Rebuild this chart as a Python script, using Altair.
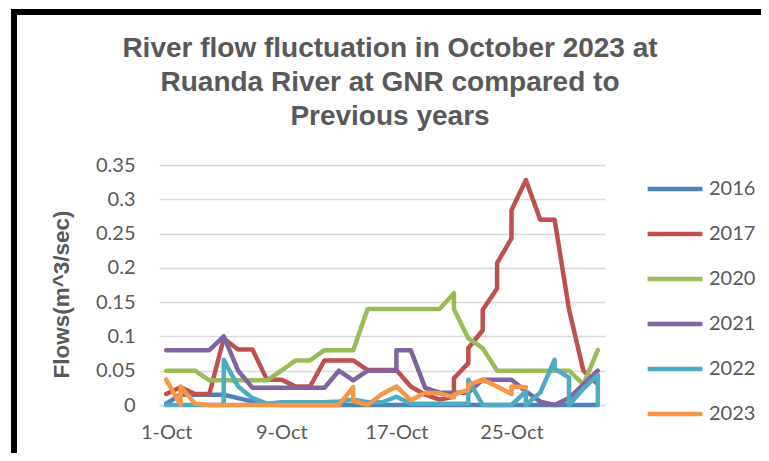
import altair as alt
import pandas as pd

years = ["2016", "2017", "2020", "2021", "2022", "2023"]
colors = ["#4F81BD", "#C0504D", "#9BBB59", "#8064A2", "#4BACC6", "#F79646"]
tick_days = [1, 9, 17, 25]
y_ticks = [0, 0.05, 0.1, 0.15, 0.2, 0.25, 0.3, 0.35]

days_2016 = list(range(1, 32))
flow_2016 = [0.002, 0.015, 0.015, 0.015, 0.015, 0.01, 0.005, 0.002] + [0.0] * 23

days_2017 = list(range(1, 21)) + [21, 21, 22, 22, 23, 23, 24, 24, 25, 25, 26, 27, 28, 29, 30, 31]
flow_2017 = [0.016, 0.026, 0.016, 0.016, 0.097, 0.081, 0.081, 0.037, 0.037, 0.027,
             0.027, 0.065, 0.065, 0.065, 0.051, 0.051, 0.051, 0.027, 0.015, 0.008,
             0.012, 0.039, 0.061, 0.083, 0.109, 0.139, 0.17, 0.207, 0.243, 0.284,
             0.328, 0.27, 0.27, 0.139, 0.05, 0.03]

days_2020 = list(range(1, 22)) + list(range(21, 32))
flow_2020 = [0.05, 0.05, 0.05, 0.036, 0.036, 0.036, 0.036, 0.036, 0.05, 0.065,
             0.065, 0.08, 0.08, 0.08, 0.14, 0.14, 0.14, 0.14, 0.14, 0.14,
             0.163, 0.14, 0.097, 0.083, 0.05, 0.05, 0.05, 0.05, 0.05, 0.05,
             0.03, 0.08]

days_2021 = list(range(1, 18)) + list(range(17, 32))
flow_2021 = [0.08, 0.08, 0.08, 0.08, 0.1, 0.05, 0.025, 0.025, 0.025, 0.025,
             0.025, 0.025, 0.05, 0.036, 0.05, 0.05, 0.05, 0.08, 0.08, 0.025,
             0.018, 0.018, 0.018, 0.037, 0.037, 0.037, 0.02, 0.005, 0.0, 0.01,
             0.03, 0.05]

days_2022 = [1, 2, 3, 4, 5, 5] + list(range(6, 23)) + [22, 23, 24, 25, 26, 26, 27, 28, 28, 29, 29, 30, 31, 31]
flow_2022 = [0.0, 0.0, 0.0, 0.0, 0.0, 0.066, 0.027, 0.01, 0.002, 0.004,
             0.004, 0.004, 0.004, 0.005, 0.008, 0.004, 0.004, 0.012, 0.002, 0.002,
             0.002, 0.002, 0.002, 0.037, 0.0, 0.0, 0.0, 0.02, 0.0, 0.018,
             0.066, 0.053, 0.04, 0.0, 0.024, 0.044, 0.0]

days_2023 = [1, 2, 2] + list(range(3, 15)) + list(range(14, 22)) + [21, 22, 22, 23, 24, 25, 25, 26]
flow_2023 = [0.037, 0.0, 0.027, 0.002, 0.0, 0.0, 0.0, 0.0, 0.0, 0.0,
             0.0, 0.0, 0.0, 0.0, 0.026, 0.006, 0.0, 0.016, 0.027, 0.007,
             0.018, 0.017, 0.011, 0.015, 0.022, 0.029, 0.037, 0.027, 0.016, 0.027,
             0.026]

series = [
    ("2016", days_2016, flow_2016),
    ("2017", days_2017, flow_2017),
    ("2020", days_2020, flow_2020),
    ("2021", days_2021, flow_2021),
    ("2022", days_2022, flow_2022),
    ("2023", days_2023, flow_2023),
]
rows = []
for yr, ds, fs in series:
    for i, (d, f) in enumerate(zip(ds, fs)):
        rows.append({"year": yr, "day": d, "flow": f, "seq": i})
df = pd.DataFrame(rows)

GRAY = "#595959"

lines = alt.Chart(df).mark_line(strokeWidth=4.5, strokeCap="round", strokeJoin="round").encode(
    x=alt.X("day:Q",
            scale=alt.Scale(domain=[0.5, 31.5], nice=False, zero=False),
            axis=alt.Axis(values=tick_days, labelExpr="datum.value + '-Oct'", grid=False,
                          ticks=False, tickSize=0, domain=True, domainColor="#D9D9D9",
                          domainWidth=1.5, labelFont="Lato", labelFontSize=20,
                          labelColor=GRAY, labelPadding=17, labelFlush=False, title=None)),
    y=alt.Y("flow:Q",
            scale=alt.Scale(domain=[0, 0.35], nice=False),
            axis=alt.Axis(values=y_ticks, format="~g", grid=True, gridColor="#D9D9D9",
                          gridWidth=1.5, ticks=False, tickSize=0, domain=False,
                          labelFont="Lato", labelFontSize=20, labelColor=GRAY,
                          labelPadding=24, title="Flows(m^3/sec)",
                          titleFont="Liberation Sans", titleFontSize=22.5,
                          titleFontWeight="bold", titleColor=GRAY, titlePadding=22,
                          titleY=129)),
    color=alt.Color("year:N",
                    scale=alt.Scale(domain=years, range=colors),
                    legend=alt.Legend(title=None, orient="none", legendX=486, legendY=-6,
                                      symbolType="stroke", symbolSize=3000,
                                      symbolStrokeWidth=4.5, labelFont="Lato",
                                      labelFontSize=20, labelColor=GRAY, labelOffset=4,
                                      rowPadding=5, padding=0)),
    order=alt.Order("seq:Q"),
)

border_top = alt.Chart(pd.DataFrame({"b": [1]})).mark_rule(color="black", strokeWidth=6).encode(
    x=alt.value(-148), x2=alt.value(610), y=alt.value(-153))
border_left = alt.Chart(pd.DataFrame({"b": [1]})).mark_rule(color="black", strokeWidth=6).encode(
    x=alt.value(-145), y=alt.value(-156), y2=alt.value(300))

chart = alt.layer(lines, border_top, border_left).properties(
    width=446,
    height=240,
    autosize=alt.AutoSizeParams(type="none"),
    padding={"left": 151, "top": 157, "right": 156, "bottom": 48},
    title=alt.TitleParams(
        text=["River flow fluctuation in October 2023 at",
              "Ruanda River at GNR compared to",
              "Previous years"],
        font="Liberation Sans", fontSize=28, fontWeight="bold", color=GRAY,
        anchor="middle", frame="group", lineHeight=34, offset=30, dx=8, dy=155),
).configure_view(stroke=None)

chart.save("out.html", embed_options={"renderer": "svg", "actions": False})
